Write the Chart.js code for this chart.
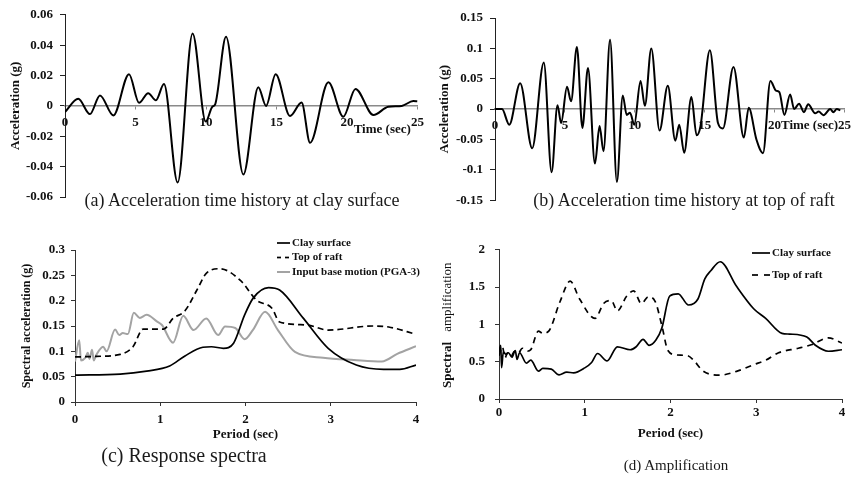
<!DOCTYPE html>
<html>
<head>
<meta charset="utf-8">
<script src="https://cdn.jsdelivr.net/npm/chart.js@4.4.1/dist/chart.umd.min.js"></script>
<style>
  body { margin: 0; background: #fff; }
  #fig { position: relative; width: 857px; height: 477px; overflow: hidden; }
  .panel { position: absolute; }
  .caption { position: absolute; transform: translate(-50%, -50%); white-space: nowrap;
             font-family: "Liberation Serif", "Times New Roman", serif; color: #1a1a1a; }
</style>
</head>
<body>
<div id="fig">
  <canvas id="clayHistory" class="panel" width="430" height="215" style="left:0;top:0"></canvas>
  <canvas id="raftHistory" class="panel" width="427" height="215" style="left:430px;top:0"></canvas>
  <canvas id="spectra" class="panel" width="430" height="245" style="left:0;top:232px"></canvas>
  <canvas id="amplification" class="panel" width="427" height="245" style="left:430px;top:232px"></canvas>
  <div class="caption" style="left:242px;top:200px;font-size:18px">(a) Acceleration time history at clay surface</div>
  <div class="caption" style="left:684px;top:200px;font-size:18px">(b) Acceleration time history at top of raft</div>
  <div class="caption" style="left:184px;top:455px;font-size:20px">(c) Response spectra</div>
  <div class="caption" style="left:676px;top:465px;font-size:15px">(d) Amplification</div>
</div>
<script>
/* ------------------------- */
/* DATA                      */
/* ------------------------- */
// (a) clay surface, time (sec) vs acceleration (g)
const clayTime = [0, 0.94, 1.77, 2.48, 3.43, 4.54, 5.25, 5.9, 6.45, 7.02, 7.99, 9.05, 9.98, 10.45, 10.65,
  11.42, 12.65, 13.71, 14.26, 14.94, 15.96, 16.78, 17.38, 18.68, 19.74, 20.6, 21.87, 22.93, 23.88, 24.7, 25];
const clayAcc = [-0.004, 0.0047, -0.0054, 0.0069, -0.0063, 0.0209, 0.002, 0.0084, 0.0037, 0.0144, -0.0505, 0.0477, -0.0103, -0.0005, 0.001,
  0.0456, -0.0452, 0.0123, 0.0, 0.0209, -0.0067, 0.0022, -0.0243, 0.0155, -0.0071, 0.0112, -0.006, -0.0006, 0.0, 0.0032, 0.003];

// (b) top of raft, time (sec) vs acceleration (g)
const raftTime = [0, 0.5, 1.02, 1.8, 2.66, 3.49, 4.05, 4.47, 4.73, 5.15, 5.44, 5.86, 6.25, 6.65, 7.15, 7.48, 7.76, 8.23, 8.72,
  9.14, 9.42, 9.66, 9.96, 10.41, 10.72, 11.18, 11.77, 12.36, 12.9, 13.18, 13.53, 14.05, 14.42, 14.7, 15.37, 15.95, 16.3,
  17.06, 17.8, 18.15, 18.7, 19.17, 19.7, 20.1, 20.34, 20.7, 21.11, 21.4, 21.75, 22.1, 22.4, 22.9, 23.15, 23.5, 23.98, 24.2, 24.45, 24.7];
const raftAcc = [0, 0, -0.0256, 0.0427, -0.0645, 0.0768, -0.104, 0.0064, -0.023, 0.0368, 0.0128, 0.1024, -0.031, 0.0678, -0.0896, -0.028, -0.0693, 0.114, -0.12,
  0.0224, -0.0096, -0.006, -0.0256, 0.0464, 0.0054, 0.0998, -0.0352, 0.0384, -0.052, -0.0256, -0.072, 0.0198, -0.0432, -0.028, 0.097, -0.023, -0.032,
  0.0694, -0.0469, 0.0022, -0.05, -0.0725, 0.0464, 0.0304, 0.028, -0.0096, 0.024, 0, 0.009, -0.005, 0.008, -0.007, -0.004, -0.01, 0, -0.005, 0, -0.002];

// (c) response spectra, period (sec) vs spectral acceleration (g)
const clayPeriod = [0, 0.53, 0.84, 1.11, 1.29, 1.5, 1.6, 1.74, 1.86, 1.99, 2.09, 2.27, 2.4, 2.68, 2.97, 3.3, 3.62, 3.81, 4.0];
const claySa = [0.053, 0.055, 0.061, 0.071, 0.091, 0.108, 0.109, 0.106, 0.116, 0.172, 0.205, 0.2257, 0.221, 0.165, 0.106, 0.073, 0.0645, 0.0645, 0.073];
const raftPeriod = [0, 0.25, 0.53, 0.68, 0.8, 1.04, 1.15, 1.29, 1.43, 1.54, 1.7, 1.94, 2.13, 2.31, 2.4, 2.72, 2.97, 3.5, 3.68, 4.0];
const raftSa = [0.089, 0.09, 0.094, 0.109, 0.144, 0.144, 0.165, 0.18, 0.221, 0.254, 0.263, 0.24, 0.201, 0.185, 0.158, 0.152, 0.142, 0.15, 0.148, 0.1336];
const basePeriod = [0, 0.05, 0.07, 0.12, 0.15, 0.17, 0.2, 0.22, 0.25, 0.33, 0.37, 0.47, 0.52, 0.56, 0.62, 0.69, 0.76, 0.84, 0.96, 1.02,
  1.15, 1.27, 1.39, 1.54, 1.68, 1.76, 1.88, 1.99, 2.09, 2.23, 2.38, 2.58, 2.91, 3.27, 3.6, 3.78, 4.0];
const baseSa = [0.08, 0.122, 0.082, 0.087, 0.097, 0.085, 0.103, 0.082, 0.093, 0.109, 0.1, 0.143, 0.132, 0.136, 0.134, 0.176, 0.166, 0.172, 0.159, 0.152,
  0.117, 0.17, 0.142, 0.165, 0.132, 0.149, 0.146, 0.124, 0.143, 0.178, 0.142, 0.099, 0.0875, 0.083, 0.08, 0.095, 0.11];

// (d) spectral amplification, period (sec)
const clayAmpPeriod = [0, 0.02, 0.03, 0.05, 0.08, 0.11, 0.15, 0.19, 0.21, 0.24, 0.32, 0.37, 0.46, 0.51, 0.61, 0.7, 0.79, 0.87, 1.0, 1.08,
  1.15, 1.26, 1.38, 1.53, 1.6, 1.68, 1.75, 1.83, 1.9, 1.99, 2.09, 2.21, 2.32, 2.4, 2.47, 2.58, 2.77, 2.97, 3.11, 3.3, 3.39, 3.59, 3.69, 3.84, 4.0];
const clayAmp = [0.63, 0.72, 0.42, 0.63, 0.6, 0.62, 0.56, 0.65, 0.53, 0.62, 0.48, 0.52, 0.374, 0.41, 0.40, 0.323, 0.36, 0.35, 0.417, 0.49,
  0.61, 0.51, 0.70, 0.66, 0.7, 0.8, 0.72, 0.79, 0.955, 1.38, 1.41, 1.26, 1.34, 1.61, 1.72, 1.84, 1.51, 1.21, 1.08, 0.88, 0.87, 0.83, 0.72, 0.64, 0.66];
const raftAmpPeriod = [0, 0.04, 0.07, 0.1, 0.14, 0.18, 0.23, 0.27, 0.33, 0.37, 0.46, 0.51, 0.58, 0.71, 0.83, 0.94, 1.12, 1.22, 1.31, 1.38,
  1.49, 1.57, 1.66, 1.74, 1.82, 1.9, 1.97, 2.07, 2.2, 2.27, 2.38, 2.58, 2.77, 2.97, 3.11, 3.26, 3.49, 3.65, 3.84, 4.0];
const raftAmp = [0.58, 0.7, 0.55, 0.62, 0.57, 0.64, 0.62, 0.68, 0.64, 0.66, 0.91, 0.88, 0.91, 1.30, 1.58, 1.34, 1.08, 1.28, 1.32, 1.18,
  1.38, 1.45, 1.28, 1.37, 1.31, 0.98, 0.65, 0.59, 0.58, 0.52, 0.374, 0.32, 0.37, 0.46, 0.52, 0.62, 0.68, 0.73, 0.82, 0.75];

/* ------------------------- */
/* HELPERS                   */
/* ------------------------- */
const SERIF = '"Liberation Serif", "Times New Roman", serif';
Chart.defaults.font.family = SERIF;
Chart.defaults.color = '#111';

const pairs = (xs, ys) => xs.map((x, i) => ({ x, y: ys[i] }));
const tickText = v => String(Number(v.toFixed(3)));
const fixWidth = w => s => { s.width = w; };
const fixHeight = h => s => { s.height = h; };
const bold = size => ({ family: SERIF, size, weight: 'bold' });

function curve(label, xs, ys, color, width, dash) {
  return {
    label, data: pairs(xs, ys), borderColor: color, borderWidth: width, borderDash: dash || [],
    pointRadius: 0, cubicInterpolationMode: 'monotone', fill: false
  };
}

// axis label written beside the zero line of a time history
const axisNote = {
  id: 'axisNote',
  afterDraw(chart, args, opts) {
    if (!opts.text) return;
    const { ctx, scales } = chart;
    ctx.save();
    ctx.font = opts.font;
    ctx.fillStyle = '#111';
    ctx.textAlign = 'center';
    ctx.textBaseline = 'middle';
    ctx.fillText(opts.text, scales.x.getPixelForValue(opts.at), scales.y.getPixelForValue(0) + opts.dy);
    ctx.restore();
  }
};

// small line-sample key in the top right corner
const lineKey = {
  id: 'lineKey',
  afterDraw(chart, args, opts) {
    if (opts.x === undefined) return;
    const { ctx } = chart;
    ctx.save();
    ctx.font = opts.font;
    ctx.textBaseline = 'middle';
    chart.data.datasets.forEach((ds, i) => {
      const y = opts.y + i * opts.gap;
      ctx.beginPath();
      ctx.strokeStyle = ds.borderColor;
      ctx.lineWidth = ds.borderWidth;
      ctx.setLineDash(ds.borderDash.length ? opts.dash : []);
      ctx.moveTo(opts.x, y);
      ctx.lineTo(opts.x + opts.len, y);
      ctx.stroke();
      ctx.setLineDash([]);
      ctx.fillStyle = '#111';
      ctx.fillText(ds.label, opts.x + opts.len + 2, y);
    });
    ctx.restore();
  }
};

// y title of (d): bold "Spectral" followed by plain "amplification"
const splitTitle = {
  id: 'splitTitle',
  afterDraw(chart, args, opts) {
    if (!opts.parts) return;
    const { ctx } = chart;
    ctx.save();
    ctx.translate(opts.x, opts.y);
    ctx.rotate(-Math.PI / 2);
    ctx.textBaseline = 'middle';
    ctx.fillStyle = '#111';
    let pos = 0;
    opts.parts.forEach(p => {
      ctx.font = p.font;
      ctx.fillText(p.text, pos, 0);
      pos += ctx.measureText(p.text).width + p.gap;
    });
    ctx.restore();
  }
};

const noChrome = { legend: { display: false }, tooltip: { enabled: false } };

function historyOptions(range, step, pad, yWidth, titlePad, note) {
  return {
    responsive: false, animation: false,
    layout: { padding: pad },
    plugins: { ...noChrome, axisNote: note },
    scales: {
      x: {
        type: 'linear', position: { y: 0 }, min: 0, max: 25,
        ticks: { stepSize: 5, padding: 6, maxRotation: 0, font: bold(13) },
        grid: { drawOnChartArea: false, tickLength: 3, color: '#888' },
        border: { color: '#8a8a8a', width: 1.5 }
      },
      y: {
        min: -range, max: range,
        ticks: { stepSize: step, callback: tickText, padding: 7, font: bold(13) },
        grid: { drawOnChartArea: false, tickLength: 5, color: '#222' },
        border: { color: '#222', width: 1 },
        title: { display: true, text: 'Acceleration (g)', font: bold(13), padding: { top: titlePad, bottom: 0 } },
        afterFit: fixWidth(yWidth)
      }
    }
  };
}

/* ------------------------- */
/* (a) CLAY SURFACE HISTORY  */
/* ------------------------- */
new Chart(document.getElementById('clayHistory'), {
  type: 'line',
  data: { datasets: [curve('Clay surface', clayTime, clayAcc, '#000', 2)] },
  options: historyOptions(0.06, 0.02, { left: 0, top: 11, right: 12, bottom: 18 }, 65, 8,
    { text: 'Time (sec)', at: 22.5, dy: 24, font: 'bold 13px ' + SERIF }),
  plugins: [axisNote]
});

/* ------------------------- */
/* (b) TOP OF RAFT HISTORY   */
/* ------------------------- */
new Chart(document.getElementById('raftHistory'), {
  type: 'line',
  data: { datasets: [curve('Top of raft', raftTime, raftAcc, '#000', 2)] },
  options: historyOptions(0.15, 0.05, { left: 0, top: 18, right: 9, bottom: 11 }, 65, 7,
    { text: 'Time (sec)', at: 22.5, dy: 17, font: 'bold 13px ' + SERIF }),
  plugins: [axisNote]
});

/* ------------------------- */
/* (c) RESPONSE SPECTRA      */
/* ------------------------- */
new Chart(document.getElementById('spectra'), {
  type: 'line',
  data: {
    datasets: [
      curve('Clay surface', clayPeriod, claySa, '#000', 1.7),
      curve('Top of raft', raftPeriod, raftSa, '#000', 1.7, [6, 4]),
      curve('Input base motion (PGA-3)', basePeriod, baseSa, '#a3a3a3', 2)
    ]
  },
  options: {
    responsive: false, animation: false,
    layout: { padding: { left: 0, top: 18, right: 14, bottom: 35 } },
    plugins: {
      ...noChrome,
      lineKey: { x: 277, y: 11, gap: 14.5, len: 13, dash: [4, 4], font: 'bold 11px ' + SERIF }
    },
    scales: {
      x: {
        type: 'linear', min: 0, max: 4,
        ticks: { stepSize: 1, padding: 6, maxRotation: 0, font: bold(13) },
        grid: { drawOnChartArea: false, tickLength: 4, color: '#333' },
        border: { color: '#333', width: 1 },
        title: { display: true, text: 'Period (sec)', font: bold(13), padding: { top: 0, bottom: 0 } },
        afterFit: fixHeight(40)
      },
      y: {
        min: 0, max: 0.3,
        ticks: { stepSize: 0.05, callback: tickText, padding: 6, font: bold(13) },
        grid: { drawOnChartArea: false, tickLength: 4, color: '#333' },
        border: { color: '#333', width: 1 },
        title: { display: true, text: 'Spectral acceleration (g)', font: bold(12), padding: { top: 20, bottom: 0 } },
        afterFit: fixWidth(75)
      }
    }
  },
  plugins: [lineKey]
});

/* ------------------------- */
/* (d) AMPLIFICATION         */
/* ------------------------- */
new Chart(document.getElementById('amplification'), {
  type: 'line',
  data: {
    datasets: [
      curve('Clay surface', clayAmpPeriod, clayAmp, '#000', 1.7),
      curve('Top of raft', raftAmpPeriod, raftAmp, '#000', 1.7, [6, 5])
    ]
  },
  options: {
    responsive: false, animation: false,
    layout: { padding: { left: 0, top: 12, right: 15, bottom: 36 } },
    plugins: {
      ...noChrome,
      lineKey: { x: 322, y: 21, gap: 22, len: 18, dash: [6, 6], font: 'bold 11px ' + SERIF },
      splitTitle: {
        x: 18, y: 156,
        parts: [
          { text: 'Spectral', font: 'bold 13px ' + SERIF, gap: 10 },
          { text: 'amplification', font: '13px ' + SERIF, gap: 0 }
        ]
      }
    },
    scales: {
      x: {
        type: 'linear', min: 0, max: 4,
        ticks: { stepSize: 1, padding: 2, maxRotation: 0, font: bold(13) },
        grid: { drawOnChartArea: false, tickLength: 4, color: '#333' },
        border: { color: '#333', width: 1 },
        title: { display: true, text: 'Period (sec)', font: bold(13), padding: { top: 0, bottom: 0 } },
        afterFit: fixHeight(42)
      },
      y: {
        min: 0, max: 2,
        ticks: { stepSize: 0.5, callback: tickText, padding: 10, font: bold(13) },
        grid: { drawOnChartArea: false, tickLength: 4, color: '#333' },
        border: { color: '#333', width: 1 },
        afterFit: fixWidth(69)
      }
    }
  },
  plugins: [lineKey, splitTitle]
});
</script>
</body>
</html>
